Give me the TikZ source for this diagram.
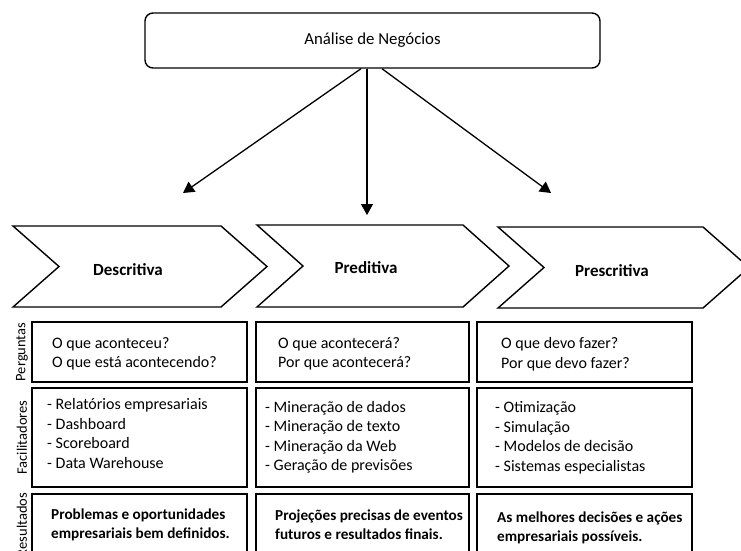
\documentclass[tikz,border=0pt]{standalone}
\usepackage{fontspec}
\setmainfont{Carlito}
\usepackage{tikz}
\usetikzlibrary{arrows.meta,positioning}
\tikzset{
  top-style/.style = {
    rectangle, rounded corners=8pt, draw, line width=1.4pt,
    minimum width=455pt, minimum height=55pt,
    font=\fontsize{16.8}{19}\selectfont
  },
  chev-style/.style = {
    draw, line width=1.4pt, line join=miter
  },
  chev-text/.style = {
    inner sep=0pt, font=\fontsize{17}{19}\selectfont\bfseries
  },
  cell-style/.style = {
    rectangle, draw, line width=2pt, outer sep=0pt, inner sep=0pt
  },
  txt-style/.style = {
    inner sep=0pt, align=left, font=\fontsize{16}{19.5}\selectfont
  },
  res-style/.style = {
    inner sep=0pt, align=left, font=\fontsize{15.2}{19}\selectfont\bfseries
  },
  side-style/.style = {
    rotate=90, inner sep=0pt, font=\fontsize{14.5}{16}\selectfont
  },
  arrow-style/.style = {
    draw, line width=1.3pt, -{Triangle[length=11pt,width=12pt]}
  }
}
\newcommand\drawChevron[4]{
  \draw[chev-style] (#1,#3) -- (#2,#3) -- ({#2+46},{(#3+#4)/2})
    -- (#2,#4) -- (#1,#4) -- ({#1+46},{(#3+#4)/2}) -- cycle;
}

\begin{document}
\begin{tikzpicture}[x=1pt,y=-1pt]
    \useasboundingbox (0,0) rectangle (741,550);
    \clip (0,0) rectangle (741,550);

    %%% top box
    \node[top-style] (analise) at (372.5,40.5) {Análise de Negócios};

    %%% chevrons
    \drawChevron{13}{221}{226}{307}
    \drawChevron{257}{463}{225}{307}
    \drawChevron{498}{703}{227}{308}
    \node[chev-text] (desc) at (128,270) {Descritiva};
    \node[chev-text] (pred) at (366,268) {Preditiva};
    \node[chev-text] (presc) at (612,271) {Prescritiva};

    %%% arrows
    \coordinate (descIn) at (183,193);
    \coordinate (predIn) at (367,215);
    \coordinate (prescIn) at (551,193);
    \path[arrow-style] ([xshift=-11.5pt]analise.south) -- (descIn);
    \path[arrow-style] ([xshift=-5.5pt]analise.south) -- (predIn);
    \path[arrow-style] ([xshift=9.5pt]analise.south) -- (prescIn);

    %%% perguntas
    \node[cell-style,minimum width=215pt,minimum height=60pt,anchor=north west] (perg1) at (32,322) {};
    \node[cell-style,minimum width=213pt,minimum height=60pt,right=9pt of perg1] (perg2) {};
    \node[cell-style,minimum width=215pt,minimum height=60pt,right=8pt of perg2] (perg3) {};
    \node[txt-style,right=20pt of perg1.west,yshift=-2pt] (pergTxt1) {O que aconteceu?\\O que está acontecendo?};
    \node[txt-style,right=22pt of perg2.west,yshift=-2pt] (pergTxt2) {O que acontecerá?\\Por que acontecerá?};
    \node[txt-style,right=24pt of perg3.west,yshift=-2pt] (pergTxt3) {O que devo fazer?\\Por que devo fazer?};

    %%% facilitadores
    \node[cell-style,minimum width=215pt,minimum height=99pt,below=6pt of perg1] (fac1) {};
    \node[cell-style,minimum width=213pt,minimum height=99pt,below=6pt of perg2] (fac2) {};
    \node[cell-style,minimum width=215pt,minimum height=99pt,below=6pt of perg3] (fac3) {};
    \node[txt-style,right=15pt of fac1.west,yshift=4pt] (facTxt1) {- Relatórios empresariais\\- Dashboard\\- Scoreboard\\- Data Warehouse};
    \node[txt-style,right=9pt of fac2.west] (facTxt2) {- Mineração de dados\\- Mineração de texto\\- Mineração da Web\\- Geração de previsões};
    \node[txt-style,right=18pt of fac3.west] (facTxt3) {- Otimização\\- Simulação\\- Modelos de decisão\\- Sistemas especialistas};

    %%% resultados
    \node[cell-style,minimum width=215pt,minimum height=62pt,below=7pt of fac1] (res1) {};
    \node[cell-style,minimum width=213pt,minimum height=62pt,below=7pt of fac2] (res2) {};
    \node[cell-style,minimum width=215pt,minimum height=62pt,below=7pt of fac3] (res3) {};
    \node[res-style,right=19pt of res1.west] (resTxt1) {Problemas e oportunidades\\empresariais bem definidos.};
    \node[res-style,right=19pt of res2.west] (resTxt2) {Projeções precisas de eventos\\futuros e resultados finais.};
    \node[res-style,right=20pt of res3.west,yshift=-3pt] (resTxt3) {As melhores decisões e ações\\empresariais possíveis.};

    %%% side labels
    \node[side-style] (lblPerg) at ([xshift=-10pt]perg1.west) {Perguntas};
    \node[side-style] (lblFac) at ([xshift=-10pt]fac1.west) {Facilitadores};
    \node[side-style] (lblRes) at ([xshift=-10pt]res1.west) {Resultados};
\end{tikzpicture}
\end{document}
